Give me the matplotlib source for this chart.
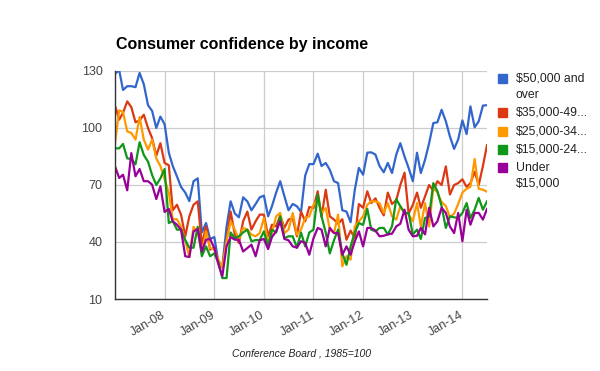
import matplotlib
matplotlib.use("Agg")
import matplotlib.pyplot as plt
import pandas as pd
from matplotlib.patches import Rectangle

plt.rcParams['font.family'] = ['Liberation Sans', 'DejaVu Sans']
plt.rcParams['text.parse_math'] = False

# monthly index values, Jan-2007 .. Jul-2014
months = pd.date_range('2007-01-01', periods=91, freq='MS')

over_50k = [128.6, 130.4, 120, 122, 122, 121.5, 129, 123, 112, 109,
            100, 106, 102, 87, 80, 74.5, 69, 66, 61.5, 72,
            73.5, 45, 50, 41.6, 42.6, 29, 27, 48, 61.4, 55,
            53, 63.5, 61.4, 56.7, 60, 63.5, 64.4, 53.5, 58.8, 66,
            72, 64, 56.7, 60, 58.8, 55.8, 75, 81, 81, 86.5,
            80, 81.6, 78, 72, 71, 56.7, 56, 50.4, 67.5, 79,
            75.4, 87, 87.2, 86, 80, 76.7, 81.6, 76.3, 86, 92,
            85, 79, 72, 87, 76.3, 83.3, 92, 102.6, 103, 109.6,
            103.5, 95.6, 89, 94, 104, 96.8, 111.4, 100.4, 103.5, 111.8,
            112]

k35_49 = [111.8, 104.4, 108, 114, 111, 103, 104, 107, 100, 94.7,
          85.4, 92, 81.6, 80.4, 56.7, 59.6, 54.4, 43, 53.5, 59.6,
          61.4, 38.6, 48.2, 36, 37, 29, 27, 41, 56, 43.9,
          39.5, 50.9, 56, 46.5, 50.9, 54.4, 54.4, 43, 49.1, 48.2,
          53.9, 47.4, 51.8, 52.6, 43, 56, 50.9, 58.4, 57.9, 66.7,
          53.2, 67.5, 53.5, 51.8, 49.6, 52, 41.2, 46, 42, 60,
          58, 66.7, 60.5, 63, 58, 54, 66, 60, 62, 70,
          76.5, 55, 59.5, 66, 58, 64, 70, 67, 72, 70,
          79.8, 65, 70, 71, 73, 69, 71, 77, 70, 80,
          91]

k25_34 = [92, 109.3, 108.4, 98.2, 97.4, 93.9, 105.8, 93.9, 88.6, 93.9,
          84, 80, 73, 66, 52, 52, 48, 41, 32, 48,
          45, 34.2, 45.6, 36.8, 36, 30.7, 26.3, 40.4, 50.9, 46.5,
          41.2, 47.4, 46.5, 43.9, 43, 44.7, 52.6, 39.5, 44.7, 53.5,
          55.3, 44.7, 46.5, 55.3, 43.9, 46.5, 52.6, 53.5, 59.6, 62.3,
          55.3, 57.9, 46.5, 44.7, 54.4, 27.2, 32.5, 30.7, 48.2, 50.9,
          53.5, 59.6, 61.4, 61.4, 60.5, 55.3, 60.5, 53.5, 51.8, 58.8,
          55.3, 54.4, 50.9, 60.5, 48.2, 60.5, 48.2, 69, 66, 61,
          59, 53, 55, 60, 66, 68, 69, 83.7, 68, 67.5,
          66.5]

k15_24 = [89.3, 89.3, 91.6, 84, 83.7, 80.9, 92.5, 85.8, 82.3, 75.3,
          70, 73.5, 78.4, 50, 51, 46.5, 46.5, 41, 37, 37,
          48, 32.5, 37.7, 32.5, 34, 29, 21, 21, 45, 42,
          43, 45, 46.5, 40.4, 41, 41, 45.6, 37.7, 46.5, 45,
          53.5, 42, 43, 43, 37, 45, 37.7, 45, 46.5, 65,
          53.5, 45, 34, 41, 46.5, 34, 28, 37.7, 45, 50,
          49, 57.4, 46.5, 45.6, 47.4, 47.4, 44, 48.2, 62.6, 58.8,
          55.3, 55.3, 44, 46.5, 41.6, 52.6, 53.5, 71, 66.7, 58.8,
          47.4, 53.5, 53, 52.6, 55.3, 60.5, 52.6, 57, 63.2, 57,
          61.4]

under_15k = [79.8, 73.7, 75.4, 67.2, 86.8, 74.6, 78.4, 72, 72, 70.2,
             62.6, 69.3, 55.8, 57.4, 50.9, 49.1, 46.5, 32.5, 32.1, 45.6,
             46.8, 35, 41.2, 41.6, 36.8, 28, 22, 37.7, 42.6, 41.2,
             41.2, 35, 36.8, 38.6, 32.5, 40.9, 41.6, 36.3, 42.6, 45.6,
             50.9, 41.6, 40.9, 37.7, 37, 40.4, 39.5, 33.3, 42, 47.4,
             46.5, 37.7, 47.4, 44.7, 44.7, 33.3, 37.7, 33.3, 40.4, 45.6,
             37.7, 47.4, 47.4, 46, 43, 43.3, 44, 44.4, 48.2, 49.6,
             57, 46.5, 43, 43.3, 47.4, 44, 58, 48.2, 50.9, 58,
             55.3, 48.2, 44.7, 55.3, 40.4, 57, 49.1, 55.3, 55.3, 51.8,
             57.4]

series = [over_50k, k35_49, k25_34, k15_24, under_15k]
legend_labels = ["$50,000 and\nover", "$35,000-49...", "$25,000-34...",
                 "$15,000-24...", "Under\n$15,000"]
colors = ['#3366cc', '#dc3912', '#ff9900', '#109618', '#990099']

yticks = [10, 40, 70, 100, 130]
xtick_dates = pd.date_range('2008-01-01', '2014-01-01', freq='YS')
xtick_labels = ['Jan-08', 'Jan-09', 'Jan-10', 'Jan-11', 'Jan-12', 'Jan-13', 'Jan-14']

W, H = 600, 371
fig = plt.figure(figsize=(W / 100, H / 100), dpi=100)
ax = fig.add_axes([115 / W, 1 - 299 / H, 372 / W, 228 / H])

for vals, c in zip(series, colors):
    ax.plot(months, vals, color=c, lw=1.6, solid_joinstyle='round')

ax.set_xlim(months[0], months[-1])
ax.set_ylim(10, 130)
ax.set_yticks(yticks)
ax.set_xticks(xtick_dates)
ax.set_xticklabels(xtick_labels, rotation=30, ha='right', va='center',
                   rotation_mode='anchor')
ax.grid(color='#cccccc', lw=0.9)
ax.set_axisbelow(True)
for s in ['top', 'right']:
    ax.spines[s].set_visible(False)
for s in ['left', 'bottom']:
    ax.spines[s].set_color('#333333')
    ax.spines[s].set_linewidth(1.0)
ax.tick_params(length=0, labelsize=9, colors='#444444')
ax.tick_params(axis='y', pad=9)
ax.tick_params(axis='x', pad=11)

# legend drawn by hand: square + wrapped label, like the original
tops = [74, 108, 127, 145, 163]
for top, lab, c in zip(tops, legend_labels, colors):
    fig.patches.append(Rectangle((498 / W, 1 - (top + 9) / H), 9 / W, 9 / H,
                                 transform=fig.transFigure, color=c))
    for k, line in enumerate(lab.split('\n')):
        fig.text(516 / W, 1 - (top + 4.5 + 16 * k) / H, line, fontsize=8.8,
                 color='#222222', va='center', ha='left')

fig.text(116 / W, 1 - 45 / H, "Consumer confidence by income", fontsize=11.5,
         fontweight='bold', va='center', ha='left', color='#000000')
fig.text(301 / W, 1 - 354 / H, "Conference Board , 1985=100", fontsize=7.5,
         style='italic', va='center', ha='center', color='#222222')

fig.savefig('out.png', dpi=100)
